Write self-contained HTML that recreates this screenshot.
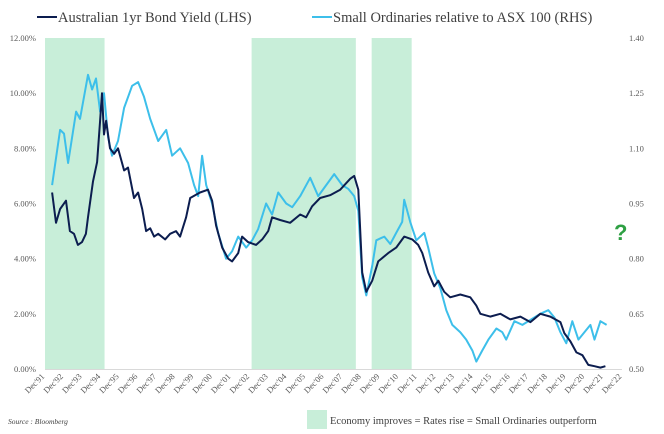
<!DOCTYPE html>
<html><head><meta charset="utf-8"><style>
body{margin:0;background:#fff;}
svg{display:block;font-family:"Liberation Serif",serif;}
</style></head><body>
<svg id="c" width="664" height="434"></svg>
<script>
// data
const shadeStart=[0,11.1,17.55];
const shadeEnd=[3.2,16.7,19.7];
const bondT=[0.38,0.59,0.81,1.13,1.34,1.56,1.77,1.99,2.2,2.31,2.58,2.8,2.96,3.06,3.17,3.28,3.49,3.71,3.92,4.25,4.46,4.78,5.0,5.22,5.43,5.65,5.86,6.08,6.45,6.72,7.04,7.26,7.58,7.8,8.33,8.76,8.98,9.19,9.52,9.84,10.05,10.38,10.59,10.91,11.34,11.67,11.99,12.2,12.63,13.17,13.71,14.03,14.35,14.78,15.32,15.86,16.4,16.61,16.83,17.04,17.26,17.58,17.9,18.44,18.87,19.3,19.73,20.05,20.27,20.59,20.91,21.13,21.45,21.77,22.31,22.85,23.17,23.39,23.92,24.46,25.0,25.54,26.08,26.61,27.15,27.69,27.9,28.23,28.55,28.87,29.19,29.52,29.84,30.11];
const bondV=[6.4,5.3,5.8,6.1,5.0,4.9,4.5,4.6,4.9,5.5,6.8,7.5,9.0,10.0,8.5,9.0,8.0,7.8,8.0,7.2,7.3,6.2,6.4,5.8,5.0,5.1,4.8,4.9,4.7,4.9,5.0,4.8,5.5,6.2,6.4,6.5,6.1,5.2,4.4,4.0,3.9,4.2,4.8,4.6,4.5,4.7,5.0,5.5,5.4,5.3,5.6,5.5,5.9,6.2,6.3,6.5,6.9,7.0,6.5,3.5,2.8,3.2,3.9,4.2,4.4,4.8,4.7,4.5,4.2,3.5,3.0,3.2,2.8,2.6,2.7,2.6,2.3,2.0,1.9,2.0,1.8,1.9,1.7,2.0,1.9,1.7,1.3,1.0,0.6,0.5,0.15,0.1,0.05,0.1];
const smallT=[0.38,0.81,1.02,1.24,1.67,1.88,2.31,2.53,2.74,2.96,3.17,3.39,3.6,3.92,4.25,4.68,5.0,5.32,5.65,6.08,6.51,6.83,7.26,7.69,8.01,8.23,8.44,8.66,8.98,9.3,9.73,10.05,10.38,10.81,11.13,11.45,11.88,12.2,12.53,12.96,13.28,13.71,14.25,14.68,15.11,15.54,15.97,16.29,16.61,16.83,17.04,17.26,17.58,17.8,18.23,18.55,18.87,19.19,19.3,19.62,19.95,20.38,20.59,20.91,21.24,21.56,21.88,22.31,22.63,22.96,23.17,23.49,23.82,24.25,24.57,24.78,25.22,25.65,26.29,26.61,27.04,27.37,27.69,28.01,28.33,28.66,28.98,29.3,29.52,29.84,30.17];
const smallV=[1.00,1.15,1.14,1.06,1.20,1.18,1.30,1.26,1.29,1.20,1.25,1.13,1.08,1.12,1.21,1.27,1.28,1.24,1.18,1.12,1.15,1.08,1.10,1.06,1.00,0.97,1.08,1.00,0.95,0.87,0.80,0.82,0.86,0.83,0.85,0.88,0.95,0.92,0.98,0.95,0.94,0.97,1.02,0.97,1.00,1.03,1.00,0.99,0.97,0.93,0.75,0.70,0.78,0.85,0.86,0.84,0.87,0.90,0.96,0.90,0.85,0.87,0.83,0.76,0.72,0.66,0.62,0.60,0.58,0.55,0.52,0.55,0.58,0.61,0.60,0.58,0.63,0.62,0.64,0.65,0.66,0.64,0.60,0.57,0.63,0.58,0.60,0.62,0.58,0.63,0.62];
const leftTicks=["0.00%","2.00%","4.00%","6.00%","8.00%","10.00%","12.00%"];
const rightTicks=["0.50","0.65","0.80","0.95","1.10","1.25","1.40"];
const xLabels=["Dec'91","Dec'92","Dec'93","Dec'94","Dec'95","Dec'96","Dec'97","Dec'98","Dec'99","Dec'00","Dec'01","Dec'02","Dec'03","Dec'04","Dec'05","Dec'06","Dec'07","Dec'08","Dec'09","Dec'10","Dec'11","Dec'12","Dec'13","Dec'14","Dec'15","Dec'16","Dec'17","Dec'18","Dec'19","Dec'20","Dec'21","Dec'22"];

const svg=document.getElementById('c');
const NS='http://www.w3.org/2000/svg';
const X0=45,X1=622,Y0=369,Y1=38;
const xs=t=>X0+t/31*(X1-X0);
const yL=v=>Y0-v/12*(Y0-Y1);
const yR=v=>Y0-(v-0.5)/0.9*(Y0-Y1);
function mk(tag,attrs,parent){const e=document.createElementNS(NS,tag);for(const k in attrs)e.setAttribute(k,attrs[k]);(parent||svg).appendChild(e);return e;}

shadeStart.forEach((s,i)=>{
 const r=mk('rect',{x:xs(s),y:Y1,width:xs(shadeEnd[i])-xs(s),height:Y0-Y1,fill:'#c8eed9'});
 
 
});
const ax=mk('line',{x1:X0,x2:X1,y1:Y0+0.5,y2:Y0+0.5,stroke:'#d9d9d9','stroke-width':1});



leftTicks.forEach((l,i)=>{
 const t=mk('text',{x:36,y:yL(i*2)+3,'font-size':8.5,fill:'#595959','text-anchor':'end'});t.textContent=l;
 
 
});
rightTicks.forEach((l,i)=>{
 const t=mk('text',{x:629,y:yR(0.5+i*0.15)+3,'font-size':8.5,fill:'#595959'});t.textContent=l;
 
 
});
xLabels.forEach((l,i)=>{
 const x=xs(i);
 const t=mk('text',{x:x,y:Y0+8,'font-size':8.5,fill:'#595959','text-anchor':'end',transform:`rotate(-45 ${x} ${Y0+8})`});t.textContent=l;
 
 
});

function line(T,V,f,color,name){
 const p=mk('polyline',{points:T.map((t,i)=>xs(t).toFixed(1)+','+f(V[i]).toFixed(1)).join(' '),fill:'none',stroke:color,'stroke-width':2,'stroke-linejoin':'round'});
 
 
}
line(smallT,smallV,yR,'#3dbfea','small-ords-line');
line(bondT,bondV,yL,'#0c1d4f','bond-yield-line');

const q=mk('text',{x:614,y:240,'font-size':22,'font-weight':'bold',fill:'#2ea043','font-family':'Liberation Sans, sans-serif'});q.textContent='?';



// legend
const g=mk('g',{});


mk('line',{x1:37,x2:57,y1:17,y2:17,stroke:'#0c1d4f','stroke-width':2},g);
const l1=mk('text',{x:58,y:22,'font-size':14.5,fill:'#404040'},g);l1.textContent='Australian 1yr Bond Yield (LHS)';


mk('line',{x1:312,x2:332,y1:17,y2:17,stroke:'#3dbfea','stroke-width':2},g);
const l2=mk('text',{x:333,y:22,'font-size':14.5,fill:'#404040'},g);l2.textContent='Small Ordinaries relative to ASX 100 (RHS)';



const sr=mk('text',{x:8,y:424,'font-size':7.5,'font-style':'italic',fill:'#404040'});sr.textContent='Source : Bloomberg';


const sw=mk('rect',{x:307,y:410,width:20,height:19,fill:'#c8eed9'});


const st=mk('text',{x:330,y:424,'font-size':10.5,fill:'#404040'});st.textContent='Economy improves = Rates rise = Small Ordinaries outperform';


</script>
</body></html>
